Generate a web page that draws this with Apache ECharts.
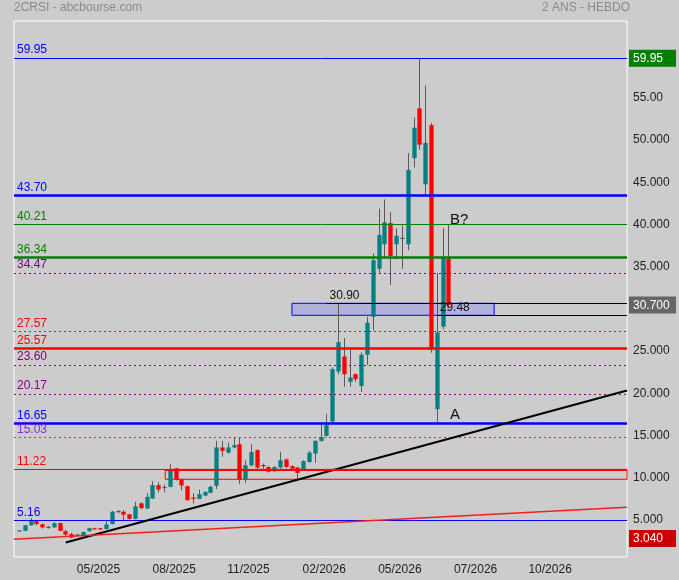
<!DOCTYPE html>
<html><head><meta charset="utf-8">
<script src="https://cdn.jsdelivr.net/npm/echarts@6/dist/echarts.min.js"></script>
<style>html,body{margin:0;padding:0;background:#cccccc}#c{width:679px;height:580px}</style>
</head><body><div id="c"></div>
<script>
// Weekly OHLC (week index = array index)
const opens  = [3.93,3.93,4.60,5.10,4.72,4.35,4.35,4.87,3.90,3.55,3.45,3.40,3.90,4.20,4.25,4.15,4.75,6.22,6.20,5.90,5.36,7.20,6.60,7.77,9.35,9.07,9.15,11.33,10.02,9.23,7.88,7.73,8.12,8.44,9.27,13.82,13.20,13.82,14.20,10.02,11.70,13.50,11.74,11.50,11.00,11.44,12.40,11.60,11.44,11.20,12.10,13.10,14.60,15.20,16.90,22.80,24.60,21.60,22.50,21.10,24.80,29.30,35.00,37.90,40.40,37.90,38.60,37.90,48.10,54.00,45.00,52.00,18.36,28.13,36.16];
const closes = [3.93,4.60,5.12,4.75,4.35,4.35,4.83,3.93,3.50,3.14,3.45,3.80,4.25,4.15,4.10,4.70,6.20,6.22,5.85,5.36,6.85,6.63,7.96,9.35,8.83,9.07,11.13,10.02,9.31,7.57,7.73,8.28,8.56,9.15,13.82,13.42,13.82,14.10,10.02,11.70,13.27,11.44,11.60,10.95,11.50,12.30,11.50,11.30,10.80,12.20,13.20,14.60,15.00,16.46,23.10,26.30,22.50,22.10,21.90,24.80,28.60,36.00,39.00,40.50,36.50,38.90,38.60,46.70,51.70,49.70,49.90,25.44,27.46,36.36,30.70];
const lows   = [3.88,3.90,4.55,4.60,4.20,4.20,4.30,3.90,3.35,3.04,3.35,3.38,3.85,4.05,4.05,4.10,4.70,6.05,5.20,5.25,5.30,6.50,6.50,7.70,8.50,8.50,9.10,9.90,8.75,7.50,7.20,7.70,8.05,8.40,8.90,12.70,13.10,13.70,9.50,9.60,11.60,11.30,11.20,10.85,10.90,11.30,11.40,11.20,10.10,11.10,12.00,12.00,14.50,15.10,16.60,22.50,21.00,21.00,21.60,20.40,23.60,27.70,34.50,36.30,33.10,36.10,35.00,37.20,47.00,49.10,43.80,25.05,16.86,27.80,30.50];
const highs  = [3.98,4.65,5.45,5.20,4.80,4.50,4.95,4.90,4.05,3.70,3.55,3.85,4.30,4.30,4.30,5.20,6.30,6.40,6.40,5.95,7.37,7.30,8.40,9.82,9.70,9.40,11.84,11.40,10.10,9.30,8.40,8.80,8.60,9.30,14.60,14.60,14.40,15.00,15.00,12.30,14.20,13.60,11.90,11.60,11.60,13.30,12.50,11.70,11.50,12.30,13.40,14.70,16.50,17.80,23.30,30.90,26.80,25.70,22.60,25.10,29.30,36.80,42.10,43.20,41.70,39.80,40.10,48.70,52.90,59.95,56.70,52.30,34.50,39.80,40.19];

// Axis ticks
const xTickPos    = [13.7, 26.75, 39.55, 52.6, 65.65, 78.7, 91.55];
const xTickLabels = ['05/2025','08/2025','11/2025','02/2026','05/2026','07/2026','10/2026'];
const yTicks      = [5, 10, 15, 20, 25, 35, 40, 45, 50, 55];
const yTickLabels = ['5.000','10.000','15.000','20.000','25.000','35.000','40.000','45.000','50.000','55.00'];
const maxHigh = 59.95, lastClose = 30.70, minLow = 3.04;

// Horizontal levels drawn across the chart
const levelValues = [59.95, 43.70, 40.21, 36.34, 34.47, 27.57, 25.57, 23.60, 20.17, 16.65, 15.03, 11.22, 5.16];
const levelLabels = ['59.95','43.70','40.21','36.34','34.47','27.57','25.57','23.60','20.17','16.65','15.03','11.22','5.16'];
// Partial levels [startWeek, value, label]
const partialLevels = [[53.0, 30.90, '30.90'], [72.0, 29.48, '29.48']];
// Trend lines [[week, value],[week, value]]
const trendBlack = [[8.06, 2.55], [104.8, 20.56]];
const trendRed   = [[-0.86, 2.94], [104.8, 6.74]];
// Zones [weekFrom, weekTo, low, high]
const zoneBox = [47.05, 81.9, 29.48, 30.90];
const zoneRed = [25.2, 104.8, 10.05, 11.22];
// Annotations [week, value, text]
const notes = [[74.3, 17.65, 'A'], [74.3, 40.8, 'B?']];

const FONT = 'Liberation Sans, Arial, sans-serif';
const X_MIN = -0.86, X_MAX = 104.8;

const levelStyle = {
  '59.95': ['#0000ff', 1, 'solid'],
  '43.70': ['#0000ff', 2.5, 'solid'],
  '40.21': ['#008000', 1, 'solid'],
  '36.34': ['#008000', 2.5, 'solid'],
  '34.47': ['#800080', 1, [2, 3]],
  '27.57': ['#ff0000', 1, [2, 3]],
  '25.57': ['#ff0000', 2.5, 'solid'],
  '23.60': ['#800080', 1, [2, 3]],
  '20.17': ['#800080', 1, [2, 3]],
  '16.65': ['#0000ff', 2.5, 'solid'],
  '15.03': ['#8a2be2', 1, [2, 3]],
  '11.22': ['#ff0000', 1, 'solid'],
  '5.16':  ['#0000ff', 1, 'solid']
};

const candleData = opens.map((o, i) => [i, o, closes[i], lows[i], highs[i]]);

function renderCandle(params, api) {
  const i = api.value(0), o = api.value(1), c = api.value(2), l = api.value(3), h = api.value(4);
  const pO = api.coord([i, o]), pC = api.coord([i, c]), pL = api.coord([i, l]), pH = api.coord([i, h]);
  const bw = api.size([1, 0])[0] * 0.74;
  const x = Math.round(pO[0]) + 0.5;
  let top = Math.min(pO[1], pC[1]), bot = Math.max(pO[1], pC[1]);
  const fill = c > o ? '#008080' : (c < o ? '#ff0000' : '#5a5a5a');
  if (bot - top < 1.2) { const m = (top + bot) / 2; top = m - 0.6; bot = m + 0.6; }
  return {
    type: 'group',
    children: [
      { type: 'line', shape: { x1: x, y1: pH[1], x2: x, y2: pL[1] }, style: { stroke: '#5a5a5a', lineWidth: 1 } },
      { type: 'rect', shape: { x: x - bw / 2, y: top, width: bw, height: bot - top }, style: { fill: fill } }
    ]
  };
}

const lvlLabel = (text, color) => ({
  show: true, position: 'insideStartTop', formatter: text, color: color,
  fontSize: 12, fontFamily: FONT, distance: [3, 2]
});

const levelLines = levelValues.map((v, k) => {
  const s = levelStyle[levelLabels[k]];
  return { yAxis: v, lineStyle: { color: s[0], width: s[1], type: s[2] }, label: lvlLabel(levelLabels[k], s[0]) };
});
const partialLines = partialLevels.map(p => [
  { coord: [p[0], p[1]], lineStyle: { color: '#000', width: 1, type: 'solid' }, label: lvlLabel(p[2], '#111') },
  { coord: [X_MAX, p[1]] }
]);
const trendLines = [
  [{ coord: trendBlack[0], lineStyle: { color: '#000', width: 2, type: 'solid' }, label: { show: false } }, { coord: trendBlack[1] }],
  [{ coord: trendRed[0], lineStyle: { color: '#f42020', width: 1.4, type: 'solid' }, label: { show: false } }, { coord: trendRed[1] }],
  [{ coord: [zoneRed[0], zoneRed[3]], lineStyle: { color: '#ff0000', width: 2, type: 'solid' }, label: { show: false } }, { coord: [zoneRed[1], zoneRed[3]] }]
];

const yLabelValues = [minLow].concat(yTicks, [lastClose, maxHigh]);

const chart = echarts.init(document.getElementById('c'), null, { renderer: 'canvas' });
chart.setOption({
  animation: false,
  backgroundColor: '#cccccc',
  textStyle: { fontFamily: FONT },
  title: [
    { text: '2CRSI - abcbourse.com', left: 14, top: 2, padding: 0, textStyle: { fontSize: 12, color: '#8a8a8a', fontWeight: 'normal', fontFamily: FONT } },
    { text: '2 ANS - HEBDO', right: 49, top: 2, padding: 0, textStyle: { fontSize: 12, color: '#8a8a8a', fontWeight: 'normal', fontFamily: FONT } }
  ],
  grid: { left: 14, right: 49, top: 21, bottom: 23, show: true, borderColor: '#ffffff', borderWidth: 1, backgroundColor: 'transparent' },
  xAxis: {
    type: 'value', min: X_MIN, max: X_MAX,
    axisLine: { show: false }, axisTick: { show: false }, splitLine: { show: false },
    axisLabel: {
      customValues: xTickPos, margin: 7, color: '#222', fontSize: 12, fontFamily: FONT,
      formatter: v => { const k = xTickPos.findIndex(p => Math.abs(p - v) < 1e-6); return k >= 0 ? xTickLabels[k] : ''; }
    }
  },
  yAxis: {
    type: 'value', position: 'right', min: 0.84, max: 64.35, scale: true,
    axisLine: { show: false }, axisTick: { show: false }, splitLine: { show: false },
    axisLabel: {
      customValues: yLabelValues, margin: 2, fontSize: 12, fontFamily: FONT, color: '#222', align: 'left',
      formatter: v => {
        if (Math.abs(v - maxHigh) < 1e-6) return '{g|' + maxHigh.toFixed(2) + '}';
        if (Math.abs(v - lastClose) < 1e-6) return '{k|' + lastClose.toFixed(3) + '}';
        if (Math.abs(v - minLow) < 1e-6) return '{r|' + minLow.toFixed(3) + '}';
        const k = yTicks.findIndex(t => Math.abs(t - v) < 1e-6);
        return k >= 0 ? '{n|' + yTickLabels[k] + '}' : '';
      },
      rich: {
        n: { color: '#222', fontSize: 12, fontFamily: FONT, padding: [0, 0, 4, 4] },
        g: { color: '#fff', backgroundColor: '#008000', fontSize: 12, fontFamily: FONT, padding: [3, 4, 2, 4], width: 39 },
        k: { color: '#fff', backgroundColor: '#666666', fontSize: 12, fontFamily: FONT, padding: [3, 4, 2, 4], width: 39 },
        r: { color: '#fff', backgroundColor: '#cc0000', fontSize: 12, fontFamily: FONT, padding: [3, 4, 2, 4], width: 39 }
      }
    }
  },
  series: [
    {
      type: 'custom', name: 'candles', z: 2,
      renderItem: renderCandle,
      encode: { x: 0, y: [1, 2, 3, 4] },
      data: candleData
    },
    {
      type: 'line', name: 'drawings', data: [], z: 3, silent: true,
      markArea: {
        silent: true,
        data: [[
          { coord: [zoneRed[0], zoneRed[3]], itemStyle: { color: 'rgba(0,0,0,0)', borderColor: '#ff0000', borderWidth: 1 } },
          { coord: [zoneRed[1], zoneRed[2]] }
        ]]
      },
      markLine: {
        silent: true, symbol: ['none', 'none'], animation: false,
        data: levelLines.concat(partialLines, trendLines)
      }
    },
    {
      type: 'line', name: 'box', data: [], z: 4, silent: true,
      markArea: {
        silent: true,
        data: [[
          { coord: [zoneBox[0], zoneBox[3]], itemStyle: { color: 'rgba(150,150,235,0.5)', borderColor: '#0000ff', borderWidth: 1 } },
          { coord: [zoneBox[1], zoneBox[2]] }
        ]]
      },
      markPoint: {
        silent: true, symbol: 'rect', symbolSize: 0,
        label: { show: true, position: 'right', distance: 0, color: '#111', fontSize: 15, fontFamily: FONT },
        data: notes.map(n => ({ coord: [n[0], n[1]], value: n[2], label: { formatter: n[2] } }))
      }
    }
  ]
});
</script></body></html>
